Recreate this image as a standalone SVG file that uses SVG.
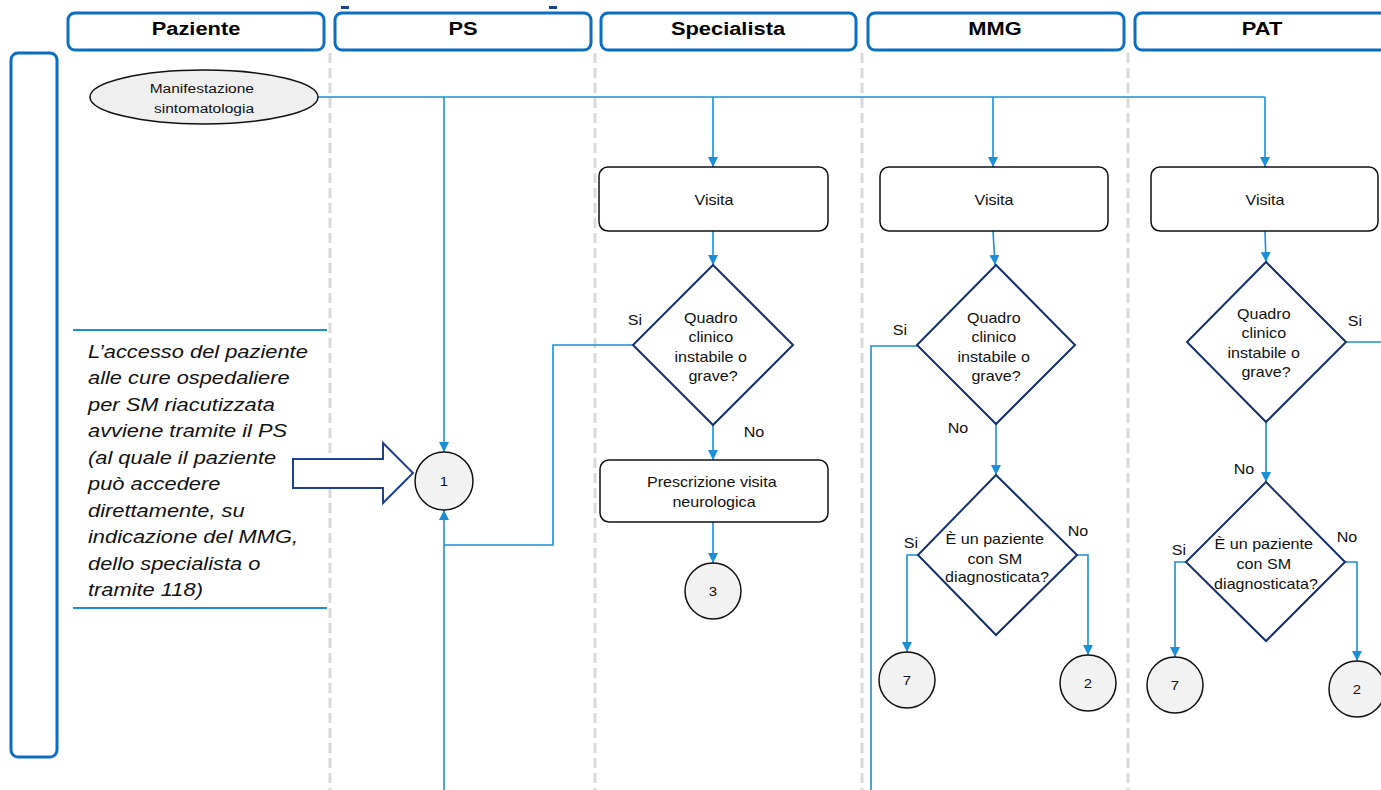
<svg xmlns="http://www.w3.org/2000/svg" width="1381" height="790" viewBox="0 0 1381 790">
  <style>
    .hdr { fill: #ffffff; stroke: #0a6fc2; stroke-width: 3; }
    .htxt { font-family: "Liberation Sans", Arial, sans-serif; font-weight: bold; font-size: 19px; fill: #000; text-anchor: middle; }
    .sep { stroke: #d9d9d9; stroke-width: 3; stroke-dasharray: 10 5; fill: none; }
    .box { fill: #ffffff; stroke: #111; stroke-width: 1.5; }
    .dia { fill: #ffffff; stroke: #16306e; stroke-width: 2; }
    .circ { fill: #f2f2f2; stroke: #111; stroke-width: 1.5; }
    .t { font-family: "Liberation Sans", Arial, sans-serif; font-size: 14px; fill: #111; text-anchor: middle; }
    .lbl { font-family: "Liberation Sans", Arial, sans-serif; font-size: 14px; fill: #111; text-anchor: middle; }
    .note { font-family: "Liberation Sans", Arial, sans-serif; font-style: italic; font-size: 19px; fill: #111; }
    .con { fill: none; stroke: #1b8fd6; stroke-width: 1.6; }
    .rule { stroke: #1b8fd6; stroke-width: 2; }
  </style>
  <defs>
    <marker id="arr" viewBox="0 0 10 10" refX="10" refY="5" markerWidth="10" markerHeight="10" markerUnits="userSpaceOnUse" orient="auto">
      <path d="M0,0 L10,5 L0,10 z" fill="#1b8fd6"/>
    </marker>
  </defs>

  <rect width="1381" height="790" fill="#ffffff"/>

  <!-- small marks above the PS lane -->
  <rect x="341" y="6" width="8" height="3" fill="#1f3f8f"/>
  <rect x="549" y="6" width="8" height="3" fill="#1f3f8f"/>

  <!-- lane separators -->
  <g id="separators">
    <line class="sep" x1="330" y1="53" x2="330" y2="790"/>
    <line class="sep" x1="595" y1="53" x2="595" y2="790"/>
    <line class="sep" x1="862" y1="53" x2="862" y2="790"/>
    <line class="sep" x1="1128" y1="53" x2="1128" y2="790"/>
  </g>

  <!-- lane headers -->
  <g id="header-paziente">
    <rect class="hdr" x="68" y="13" width="256" height="37" rx="7"/>
    <text class="htxt" transform="translate(196,35) scale(1.15,1)">Paziente</text>
  </g>
  <g id="header-ps">
    <rect class="hdr" x="335" y="13" width="256" height="37" rx="7"/>
    <text class="htxt" transform="translate(463,35) scale(1.15,1)">PS</text>
  </g>
  <g id="header-specialista">
    <rect class="hdr" x="601" y="13" width="255" height="37" rx="7"/>
    <text class="htxt" transform="translate(728,35) scale(1.15,1)">Specialista</text>
  </g>
  <g id="header-mmg">
    <rect class="hdr" x="868" y="13" width="256" height="37" rx="7"/>
    <text class="htxt" transform="translate(995,35) scale(1.15,1)">MMG</text>
  </g>
  <g id="header-pat">
    <rect class="hdr" x="1135" y="13" width="260" height="37" rx="7"/>
    <text class="htxt" transform="translate(1262,35) scale(1.15,1)">PAT</text>
  </g>

  <!-- left phase bar -->
  <g id="phase-bar">
    <rect class="hdr" x="11" y="53" width="46" height="704" rx="7"/>
  </g>

  <!-- note block -->
  <g id="note">
    <line class="rule" x1="73" y1="330" x2="327" y2="330"/>
    <line class="rule" x1="73" y1="608" x2="327" y2="608"/>
    <text class="note" transform="translate(88,0) scale(1.15,1)">
      <tspan x="0" y="358">L’accesso del paziente</tspan>
      <tspan x="0" y="384.5">alle cure ospedaliere</tspan>
      <tspan x="0" y="411">per SM riacutizzata</tspan>
      <tspan x="0" y="437.5">avviene tramite il PS</tspan>
      <tspan x="0" y="464">(al quale il paziente</tspan>
      <tspan x="0" y="490.5">può accedere</tspan>
      <tspan x="0" y="517">direttamente, su</tspan>
      <tspan x="0" y="543.5">indicazione del MMG,</tspan>
      <tspan x="0" y="570">dello specialista o</tspan>
      <tspan x="0" y="596.5">tramite 118)</tspan>
    </text>
  </g>
  <g id="block-arrow">
    <polygon points="293,459 383,459 383,443 413,473 383,503 383,488 293,488" fill="#ffffff" stroke="#1f3f8f" stroke-width="2"/>
  </g>

  <!-- connectors -->
  <g id="connectors">
    <line class="con" x1="318" y1="97" x2="1265" y2="97"/>
    <line class="con" x1="444" y1="97" x2="444" y2="452" marker-end="url(#arr)"/>
    <line class="con" x1="713" y1="97" x2="713" y2="167" marker-end="url(#arr)"/>
    <line class="con" x1="993" y1="97" x2="993" y2="167" marker-end="url(#arr)"/>
    <line class="con" x1="1265" y1="97" x2="1265" y2="167" marker-end="url(#arr)"/>

    <line class="con" x1="713" y1="231" x2="713" y2="265" marker-end="url(#arr)"/>
    <line class="con" x1="993" y1="231" x2="995" y2="265" marker-end="url(#arr)"/>
    <line class="con" x1="1265" y1="231" x2="1266" y2="262" marker-end="url(#arr)"/>

    <!-- Specialista: Si -> 1, No -> prescrizione -> 3 -->
    <polyline class="con" points="633,345 553,345 553,545 444,545"/>
    <line class="con" x1="444" y1="790" x2="444" y2="510" marker-end="url(#arr)"/>
    <line class="con" x1="713" y1="425" x2="713" y2="460" marker-end="url(#arr)"/>
    <line class="con" x1="713" y1="522" x2="713" y2="563" marker-end="url(#arr)"/>

    <!-- MMG -->
    <polyline class="con" points="917,346 871,346 871,790"/>
    <line class="con" x1="996" y1="424" x2="996" y2="475" marker-end="url(#arr)"/>
    <polyline class="con" points="918,555 907,555 907,652" marker-end="url(#arr)"/>
    <polyline class="con" points="1077,555 1088,555 1088,655" marker-end="url(#arr)"/>

    <!-- PAT -->
    <line class="con" x1="1346" y1="342" x2="1381" y2="342"/>
    <line class="con" x1="1266" y1="422" x2="1266" y2="482" marker-end="url(#arr)"/>
    <polyline class="con" points="1186,562 1175,562 1175,657" marker-end="url(#arr)"/>
    <polyline class="con" points="1345,562 1357,562 1357,661" marker-end="url(#arr)"/>
  </g>

  <!-- start event -->
  <g id="start">
    <ellipse cx="204" cy="97" rx="114" ry="27" fill="#efefef" stroke="#111" stroke-width="1.5"/>
    <text class="t" transform="translate(204,0) scale(1.15,1)" style="font-size:13.5px">
      <tspan x="0" y="93">Manifestazione</tspan>
      <tspan x="0" y="113">sintomatologia</tspan>
    </text>
  </g>

  <!-- connector 1 (PS) -->
  <g id="ref-1">
    <circle class="circ" cx="444" cy="481" r="29"/>
    <text class="t" transform="translate(444,486) scale(1.15,1)" style="font-size:13px">1</text>
  </g>

  <!-- Specialista lane -->
  <g id="spec-visita">
    <rect class="box" x="599" y="167" width="229" height="64" rx="9"/>
    <text class="t" transform="translate(714,205) scale(1.15,1)">Visita</text>
  </g>
  <g id="spec-decision">
    <polygon class="dia" points="713,265 793,345 713,425 633,345"/>
    <text class="t" transform="translate(713,0) scale(1.15,1)">
      <tspan x="0" y="323">Quadro</tspan>
      <tspan x="0" y="342">clinico</tspan>
      <tspan x="0" y="362">instabile o</tspan>
      <tspan x="0" y="381">grave?</tspan>
    </text>
    <text class="lbl" transform="translate(635,325) scale(1.15,1)">Si</text>
    <text class="lbl" transform="translate(754,437) scale(1.15,1)">No</text>
  </g>
  <g id="spec-prescrizione">
    <rect class="box" x="600" y="460" width="228" height="62" rx="9"/>
    <text class="t" transform="translate(714,0) scale(1.15,1)">
      <tspan x="0" y="487">Prescrizione visita</tspan>
      <tspan x="0" y="507">neurologica</tspan>
    </text>
  </g>
  <g id="ref-3">
    <circle class="circ" cx="713" cy="591" r="28"/>
    <text class="t" transform="translate(713,596) scale(1.15,1)" style="font-size:13px">3</text>
  </g>

  <!-- MMG lane -->
  <g id="mmg-visita">
    <rect class="box" x="880" y="167" width="228" height="64" rx="9"/>
    <text class="t" transform="translate(994,205) scale(1.15,1)">Visita</text>
  </g>
  <g id="mmg-decision-1">
    <polygon class="dia" points="996,265 1075,345 996,424 917,345"/>
    <text class="t" transform="translate(996,0) scale(1.15,1)">
      <tspan x="0" y="323">Quadro</tspan>
      <tspan x="0" y="342">clinico</tspan>
      <tspan x="0" y="362">instabile o</tspan>
      <tspan x="0" y="381">grave?</tspan>
    </text>
    <text class="lbl" transform="translate(900,335) scale(1.15,1)">Si</text>
    <text class="lbl" transform="translate(958,433) scale(1.15,1)">No</text>
  </g>
  <g id="mmg-decision-2">
    <polygon class="dia" points="996,475 1077,555 996,635 918,555"/>
    <text class="t" transform="translate(997,0) scale(1.15,1)">
      <tspan x="0" y="544">È un paziente</tspan>
      <tspan x="0" y="564">con SM</tspan>
      <tspan x="0" y="582">diagnosticata?</tspan>
    </text>
    <text class="lbl" transform="translate(911,548) scale(1.15,1)">Si</text>
    <text class="lbl" transform="translate(1078,536) scale(1.15,1)">No</text>
  </g>
  <g id="mmg-ref-7">
    <circle class="circ" cx="907" cy="680" r="28"/>
    <text class="t" transform="translate(907,685) scale(1.15,1)" style="font-size:13px">7</text>
  </g>
  <g id="mmg-ref-2">
    <circle class="circ" cx="1088" cy="683" r="28"/>
    <text class="t" transform="translate(1088,688) scale(1.15,1)" style="font-size:13px">2</text>
  </g>

  <!-- PAT lane -->
  <g id="pat-visita">
    <rect class="box" x="1151" y="167" width="227" height="64" rx="9"/>
    <text class="t" transform="translate(1265,205) scale(1.15,1)">Visita</text>
  </g>
  <g id="pat-decision-1">
    <polygon class="dia" points="1266,262 1346,342 1266,422 1187,342"/>
    <text class="t" transform="translate(1266,0) scale(1.15,1)">
      <tspan x="0" y="319">Quadro</tspan>
      <tspan x="0" y="338">clinico</tspan>
      <tspan x="0" y="358">instabile o</tspan>
      <tspan x="0" y="377">grave?</tspan>
    </text>
    <text class="lbl" transform="translate(1355,326) scale(1.15,1)">Si</text>
    <text class="lbl" transform="translate(1244,474) scale(1.15,1)">No</text>
  </g>
  <g id="pat-decision-2">
    <polygon class="dia" points="1266,482 1345,562 1266,641 1186,562"/>
    <text class="t" transform="translate(1266,0) scale(1.15,1)">
      <tspan x="0" y="549">È un paziente</tspan>
      <tspan x="0" y="569">con SM</tspan>
      <tspan x="0" y="589">diagnosticata?</tspan>
    </text>
    <text class="lbl" transform="translate(1179,555) scale(1.15,1)">Si</text>
    <text class="lbl" transform="translate(1347,542) scale(1.15,1)">No</text>
  </g>
  <g id="pat-ref-7">
    <circle class="circ" cx="1175" cy="685" r="28"/>
    <text class="t" transform="translate(1175,690) scale(1.15,1)" style="font-size:13px">7</text>
  </g>
  <g id="pat-ref-2">
    <circle class="circ" cx="1357" cy="689" r="28"/>
    <text class="t" transform="translate(1357,694) scale(1.15,1)" style="font-size:13px">2</text>
  </g>
</svg>
